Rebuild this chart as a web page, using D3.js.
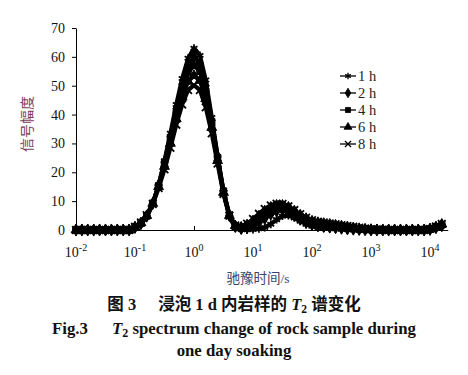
<!DOCTYPE html>
<html lang="zh">
<head>
<meta charset="UTF-8">
<title>T2 spectrum</title>
<style>
	body{margin:0;background:#fff;}
	text{font-family:"Liberation Serif","Times New Roman","Noto Sans CJK SC",serif;}
</style>
</head>
<body>
<svg id="chart" width="468" height="375"></svg>
<script src="https://cdn.jsdelivr.net/npm/d3@7"></script>
<script>
	// relaxation time (s), 0.1 decade steps
	let t2 = [0.01,0.0126,0.0158,0.02,0.0251,0.0316,0.0398,0.0501,0.0631,0.0794,
		0.1,0.126,0.158,0.2,0.251,0.316,0.398,0.501,0.631,0.794,
		1,1.26,1.58,2,2.51,3.16,3.98,5.01,6.31,7.94,
		10,12.6,15.8,20,25.1,31.6,39.8,50.1,63.1,79.4,
		100,126,158,200,251,316,398,501,631,794,
		1000,1259,1585,1995,2512,3162,3981,5012,6310,7943,
		10000,12589,15849];

	let s1h = [0,0,0,0,0,0,0,0,0,0,
		0.8,2.0,4.5,9.0,15.5,24.0,33.5,43.5,52.5,59.5,
		63.0,60.5,52.0,39.0,25.5,13.0,4.5,0.8,0.2,0.1,
		0.2,0.4,0.9,2.0,3.6,4.8,5.0,4.2,3.0,2.0,
		1.3,0.9,0.7,0.5,0.4,0.3,0.2,0.1,0,0,
		0,0,0,0,0,0,0,0,0,0,
		0.3,0.9,1.6];
	let s2h = [0,0,0,0,0,0,0,0,0,0,
		0.9,2.2,4.8,9.2,15.5,23.5,32.5,42.0,50.5,57.0,
		60.0,57.8,50.0,38.0,25.5,13.5,5.0,1.2,0.5,0.8,
		1.5,2.6,4.0,5.5,6.6,7.0,6.5,5.2,3.8,2.6,
		1.9,1.5,1.2,1.0,0.8,0.6,0.4,0.3,0.2,0.1,
		0,0,0,0,0,0,0,0,0,0,
		0.2,0.8,1.5];
	let s4h = [0,0,0,0,0,0,0,0,0,0,
		1.0,2.4,5.0,9.3,15.3,23.0,31.5,40.5,48.5,54.5,
		57.0,55.0,48.0,37.0,25.0,13.5,5.2,1.4,0.8,1.3,
		2.4,3.9,5.5,7.0,7.9,8.0,7.3,6.0,4.6,3.4,
		2.6,2.1,1.8,1.5,1.2,0.9,0.7,0.5,0.3,0.2,
		0.1,0,0,0,0,0,0,0,0,0,
		0.3,1.0,1.8];
	let s6h = [0,0,0,0,0,0,0,0,0,0,
		1.0,2.5,5.0,9.2,15.0,22.0,30.0,38.5,46.0,51.5,
		53.5,51.8,45.5,35.5,24.0,13.0,5.0,1.5,1.0,1.8,
		3.2,4.9,6.6,7.9,8.6,8.6,7.9,6.6,5.2,4.0,
		3.1,2.6,2.3,2.0,1.7,1.4,1.1,0.8,0.5,0.3,
		0.2,0.1,0,0,0,0,0,0,0,0,
		0.4,1.1,2.0];
	let s8h = [0,0,0,0,0,0,0,0,0,0,
		1.1,2.6,5.1,9.0,14.5,21.0,28.5,36.5,43.5,48.5,
		50.2,48.5,42.5,33.5,23.0,12.5,5.0,1.6,1.2,2.2,
		3.8,5.6,7.3,8.5,9.1,9.0,8.2,6.9,5.5,4.3,
		3.4,2.9,2.6,2.3,2.0,1.7,1.4,1.1,0.8,0.5,
		0.3,0.2,0.1,0,0,0,0,0,0,0,
		0.4,1.2,2.1];

	let seriesNames = ["1 h","2 h","4 h","6 h","8 h"];
	let xTicks = [1e-2,1e-1,1,1e1,1e2,1e3,1e4];
	let yTicks = [0,10,20,30,40,50,60,70];

	let series = [
		{name:seriesNames[0], values:s1h, sym:d3.symbolAsterisk, fill:false, size:44},
		{name:seriesNames[1], values:s2h, sym:d3.symbolDiamond, fill:true, size:42},
		{name:seriesNames[2], values:s4h, sym:d3.symbolSquare, fill:true, size:40},
		{name:seriesNames[3], values:s6h, sym:d3.symbolTriangle, fill:true, size:42},
		{name:seriesNames[4], values:s8h, sym:d3.symbolTimes, fill:false, size:40}
	];

	let svg = d3.select("#chart");
	let x = d3.scaleLog().domain([0.01, 20000]).range([76, 76 + 59 * Math.log10(2e6)]);
	let y = d3.scaleLinear().domain([0, 70]).range([230, 28]);

	// y axis
	let yAxis = svg.append("g")
		.attr("transform", "translate(76,0)")
		.call(d3.axisLeft(y).tickValues(yTicks).tickSize(4).tickSizeOuter(0).tickPadding(7));
	yAxis.select(".domain").attr("stroke", "#000");
	yAxis.selectAll("line").attr("stroke", "#000");
	yAxis.selectAll("text").attr("font-size", 14).attr("fill", "#111")
		.style("font-family", "'Liberation Serif',serif");

	// x axis (ticks inside)
	let xAxis = svg.append("g")
		.attr("transform", "translate(0," + y(0) + ")")
		.call(d3.axisBottom(x).tickValues(xTicks).tickSizeInner(-4).tickSizeOuter(0).tickFormat(""));
	xAxis.select(".domain").attr("stroke", "#000");
	xAxis.selectAll("line").attr("stroke", "#000");

	let xl = svg.append("g").selectAll("text")
		.data(xTicks).enter().append("text")
		.attr("x", d => x(d))
		.attr("y", 257)
		.attr("text-anchor", "middle")
		.attr("font-size", 14)
		.attr("fill", "#111");
	xl.append("tspan").text("10");
	xl.append("tspan").attr("dy", -6).attr("font-size", 10).text(d => Math.round(Math.log10(d)));

	// axis titles
	svg.append("text")
		.attr("transform", "translate(32,124) rotate(-90)")
		.attr("text-anchor", "middle")
		.attr("font-size", 14)
		.attr("fill", "#7d3c5c")
		.style("font-family", "'Noto Sans CJK SC',sans-serif")
		.text("信号幅度");
	svg.append("text")
		.attr("x", 258).attr("y", 283)
		.attr("text-anchor", "middle")
		.attr("font-size", 13.5)
		.attr("fill", "#3a4566")
		.style("font-family", "'Liberation Serif','Noto Sans CJK SC',serif")
		.text("驰豫时间/s");

	// curves
	let line = d3.line().x((d, i) => x(t2[i])).y(d => y(d));
	let plot = svg.append("g");
	series.slice().reverse().forEach(function(s){
		let g = plot.append("g");
		g.append("path")
			.attr("d", line(s.values))
			.attr("fill", "none")
			.attr("stroke", "#000")
			.attr("stroke-width", 4.2)
			.attr("stroke-linejoin", "round");
		g.selectAll("path.m")
			.data(s.values).enter().append("path")
			.attr("class", "m")
			.attr("transform", (d, i) => "translate(" + x(t2[i]) + "," + y(d) + ")")
			.attr("d", d3.symbol().type(s.sym).size(s.size))
			.attr("fill", s.fill ? "#000" : "none")
			.attr("stroke", "#000")
			.attr("stroke-width", s.fill ? 1 : 1.8);
	});

	// legend
	let leg = svg.append("g").selectAll("g")
		.data(series).enter().append("g")
		.attr("transform", (d, i) => "translate(340," + (76 + i * 17) + ")");
	leg.append("line").attr("x1", 0).attr("x2", 16).attr("stroke", "#000").attr("stroke-width", 1.3);
	leg.append("path")
		.attr("transform", "translate(8,0)")
		.attr("d", d => d3.symbol().type(d.sym).size(d.size * 0.65)())
		.attr("fill", d => d.fill ? "#000" : "none")
		.attr("stroke", "#000")
		.attr("stroke-width", d => d.fill ? 0.8 : 1.3);
	leg.append("text")
		.attr("x", 18).attr("y", 5)
		.attr("font-size", 14.5)
		.attr("fill", "#222")
		.text(d => d.name);

	// captions
	let c1 = svg.append("text")
		.attr("x", 234).attr("y", 310)
		.attr("text-anchor", "middle")
		.attr("font-size", 16.5)
		.attr("font-weight", "bold")
		.attr("fill", "#111")
		.style("font-family", "'Liberation Serif','Noto Sans CJK SC',serif");
	c1.append("tspan").text("图 3");
	c1.append("tspan").attr("dx", 22).text("浸泡 1 d 内岩样的 ");
	c1.append("tspan").attr("font-style", "italic").text("T");
	c1.append("tspan").attr("dy", 3).attr("font-size", 11.5).text("2");
	c1.append("tspan").attr("dy", -3).text(" 谱变化");

	let c2 = svg.append("text")
		.attr("x", 234).attr("y", 334)
		.attr("text-anchor", "middle")
		.attr("font-size", 16.8)
		.attr("font-weight", "bold")
		.attr("fill", "#111");
	c2.append("tspan").text("Fig.3");
	c2.append("tspan").attr("dx", 24).attr("font-style", "italic").text("T");
	c2.append("tspan").attr("dy", 3).attr("font-size", 12).text("2");
	c2.append("tspan").attr("dy", -3).text(" spectrum change of rock sample during");

	svg.append("text")
		.attr("x", 234).attr("y", 356)
		.attr("text-anchor", "middle")
		.attr("font-size", 16.8)
		.attr("font-weight", "bold")
		.attr("fill", "#111")
		.text("one day soaking");
</script>
</body>
</html>
